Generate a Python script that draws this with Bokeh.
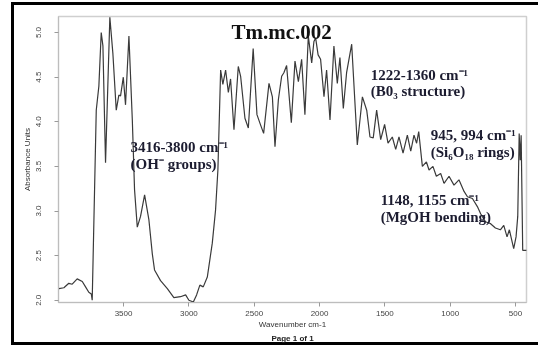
from bokeh.plotting import figure
from bokeh.models import Range1d, Label, FixedTicker, NumeralTickFormatter, Title
from bokeh.embed import file_html
from bokeh.resources import INLINE

# FTIR spectrum (wavenumber cm-1, absorbance units)
wavenumber = [3995, 3957, 3919, 3893, 3855, 3816, 3791, 3766, 3747, 3740,
              3709, 3689, 3671, 3658, 3638, 3605, 3582, 3556, 3536, 3523,
              3502, 3485, 3459, 3433, 3416, 3395, 3370, 3339, 3306, 3280,
              3263, 3217, 3165, 3115, 3064, 3025, 3000, 2966, 2941, 2916,
              2890, 2859, 2821, 2796, 2778, 2757, 2740, 2719, 2698, 2681,
              2655, 2622, 2604, 2571, 2545, 2508, 2479, 2455, 2428, 2387,
              2361, 2341, 2315, 2290, 2273, 2252, 2216, 2188, 2162, 2137,
              2112, 2086, 2060, 2043, 2030, 2011, 1992, 1966, 1946, 1920,
              1890, 1864, 1844, 1818, 1793, 1754, 1711, 1672, 1639, 1614,
              1589, 1563, 1532, 1502, 1476, 1443, 1417, 1392, 1361, 1328,
              1302, 1277, 1257, 1241, 1213, 1182, 1162, 1132, 1106, 1073,
              1047, 1009, 971, 933, 894, 868, 830, 792, 767, 730,
              693, 654, 616, 590, 565, 547, 514, 496, 483, 472,
              464, 457, 445, 414]
absorbance = [2.13, 2.14, 2.19, 2.18, 2.24, 2.21, 2.15, 2.09, 2.07, 2.00,
              4.13, 4.40, 5.00, 4.85, 3.54, 5.17, 4.77, 4.13, 4.30, 4.29,
              4.50, 4.19, 4.96, 4.02, 3.24, 2.82, 2.94, 3.18, 2.90, 2.52,
              2.34, 2.22, 2.13, 2.03, 2.04, 2.06, 2.00, 1.98, 2.06, 2.17,
              2.15, 2.26, 2.64, 3.01, 3.46, 4.58, 4.42, 4.58, 4.33, 4.48,
              3.91, 4.62, 4.51, 4.04, 3.93, 4.82, 4.08, 3.98, 3.87, 4.43,
              4.28, 3.72, 4.25, 4.51, 4.55, 4.63, 3.99, 4.68, 4.45, 4.70,
              4.08, 4.96, 4.66, 4.90, 4.94, 4.75, 4.70, 4.28, 4.58, 4.02,
              4.85, 4.43, 4.72, 4.15, 4.55, 4.87, 3.74, 4.28, 4.13, 3.83,
              3.82, 4.13, 3.80, 3.97, 3.76, 3.83, 3.69, 3.83, 3.65, 3.85,
              3.67, 3.85, 3.76, 3.89, 3.50, 3.55, 3.46, 3.50, 3.39, 3.42,
              3.31, 3.39, 3.29, 3.35, 3.22, 3.16, 3.14, 3.05, 2.97, 2.88,
              2.86, 2.81, 2.79, 2.84, 2.71, 2.79, 2.58, 2.71, 2.94, 3.87,
              3.57, 3.85, 2.56, 2.56]

x_ticks = [500, 1000, 1500, 2000, 2500, 3000, 3500]
y_ticks = [2.0, 2.5, 3.0, 3.5, 4.0, 4.5, 5.0]

title_text = "Tm.mc.002"
annotations = [
    ("3416-3800 cm\u207b\u00b9", "(OH\u207b groups)"),
    ("1222-1360 cm\u207b\u00b9", "(B0\u2083 structure)"),
    ("945, 994 cm\u207b\u00b9", "(Si\u2086O\u2081\u2088 rings)"),
    ("1148, 1155 cm\u207b\u00b9", "(MgOH bending)"),
]
annot_pos = [(3446, 3.72, 3.53), (1609, 4.53, 4.35), (1149, 3.85, 3.66), (1532, 3.12, 2.93)]

p = figure(width=527, height=343, output_backend="svg", toolbar_location=None,
           x_range=Range1d(3998, 416), y_range=Range1d(1.975, 5.18),
           min_border_left=47, min_border_right=12, min_border_top=14, min_border_bottom=43,
           background_fill_color="white", border_fill_alpha=0)
# scanned page frame around the printout (left, top and bottom edges)
p.styles = {"position": "fixed", "left": "11px", "top": "2px",
            "box-shadow": "inset 3px 3px 0 0 #000000, inset 0 -3px 0 0 #000000"}

p.line(wavenumber, absorbance, line_color="#3a3a3a", line_width=1.2)

p.grid.visible = False
p.outline_line_color = "#cfcfcf"
p.outline_line_width = 1.5

for ax in (p.xaxis[0], p.yaxis[0]):
    ax.axis_line_color = "#bdbdbd"
    ax.major_tick_line_color = "#9a9a9a"
    ax.minor_tick_line_color = None
    ax.major_tick_in = 0
    ax.major_tick_out = 4
    ax.major_label_text_font = "Liberation Sans"
    ax.major_label_text_font_size = "8px"
    ax.major_label_text_color = "#444444"
    ax.axis_label_text_font = "Liberation Sans"
    ax.axis_label_text_font_size = "8px"
    ax.axis_label_text_font_style = "normal"
    ax.axis_label_text_color = "#333333"

p.xaxis.ticker = FixedTicker(ticks=x_ticks)
p.yaxis.ticker = FixedTicker(ticks=y_ticks)
p.yaxis.formatter = NumeralTickFormatter(format="0.0")
p.yaxis.major_label_orientation = "vertical"
p.yaxis.major_label_standoff = 13
p.yaxis.axis_label = "Absorbance Units"
p.yaxis.axis_label_standoff = 2
p.xaxis.major_label_standoff = 4
p.xaxis.axis_label = "Wavenumber cm-1"
p.xaxis.axis_label_standoff = 1

page = Title(text="Page 1 of 1", align="center", text_font="Liberation Sans",
             text_font_size="8px", text_font_style="bold", text_color="#222222",
             standoff=0, offset=-10)
p.add_layout(page, "below")

serif = "Liberation Serif"
ink = "#1c1c30"
p.add_layout(Label(x=2290, y=5.01, text=title_text, text_font=serif, text_font_size="21px",
                   text_font_style="bold", text_color="#111111", text_align="center",
                   text_baseline="middle"))
for (l1, l2), (xx, y1, y2) in zip(annotations, annot_pos):
    for t, yy in ((l1, y1), (l2, y2)):
        p.add_layout(Label(x=xx, y=yy, text=t, text_font=serif, text_font_size="15px",
                           text_font_style="bold", text_color=ink, text_align="left",
                           text_baseline="middle"))

open("out.html", "w").write(file_html(p, INLINE))
